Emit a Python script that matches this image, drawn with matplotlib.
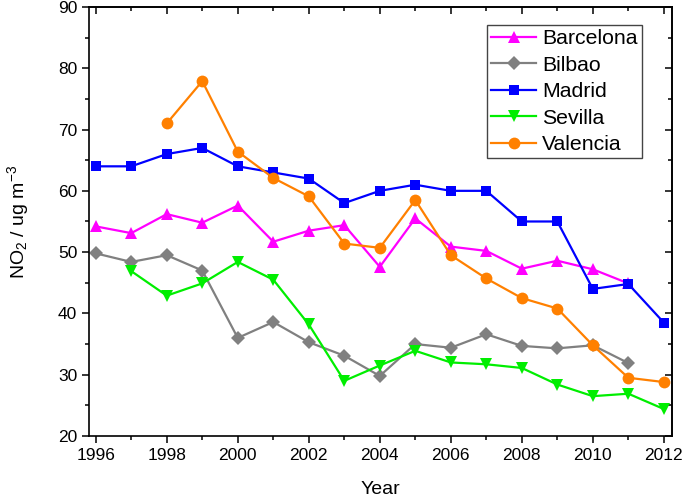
import matplotlib
matplotlib.use("Agg")
import matplotlib.pyplot as plt
from matplotlib.ticker import MultipleLocator, NullFormatter

plt.rcParams['font.family'] = ['Liberation Sans', 'DejaVu Sans']
plt.rcParams['mathtext.default'] = 'regular'

years = list(range(1996, 2013))

barcelona = [54.2, 53.1, 56.2, 54.8, 57.6, 51.7, 53.5, 54.4, 47.6, 55.5, 50.9, 50.2, 47.3, 48.6, 47.2, 44.9, None]
bilbao = [49.8, 48.4, 49.5, 47.0, 36.0, 38.6, 35.3, 33.1, 29.8, 35.0, 34.4, 36.6, 34.7, 34.3, 34.8, 31.9, None]
madrid = [64, 64, 66, 67, 64, 63, 62, 58, 60, 61, 60, 60, 55, 55, 44, 44.8, 38.5]
sevilla = [None, 46.9, 42.9, 44.9, 48.4, 45.5, 38.2, 29.0, 31.5, 33.9, 32.0, 31.7, 31.1, 28.4, 26.5, 26.9, 24.4]
valencia = [None, None, 71.0, 77.9, 66.4, 62.1, 59.1, 51.4, 50.7, 58.5, 49.5, 45.7, 42.5, 40.8, 34.8, 29.5, 28.8]

series = [
    ("Barcelona", barcelona, "#ff00ff", "^", 8.5),
    ("Bilbao", bilbao, "#808080", "D", 7),
    ("Madrid", madrid, "#0000ff", "s", 7.5),
    ("Sevilla", sevilla, "#00ee00", "v", 8.5),
    ("Valencia", valencia, "#ff8000", "o", 8.5),
]

fig = plt.figure(figsize=(6.83, 4.98), dpi=100)
ax = fig.add_axes([0.1303, 0.1245, 0.8536, 0.8615])

for name, vals, color, marker, ms in series:
    xs = [y for y, v in zip(years, vals) if v is not None]
    ys = [v for v in vals if v is not None]
    ax.plot(xs, ys, color=color, marker=marker, markersize=ms, linewidth=1.6,
            markeredgewidth=0, label=name)

ax.set_xlim(1995.81, 2012.23)
ax.set_ylim(20, 90)
ax.xaxis.set_major_locator(MultipleLocator(2))
ax.xaxis.set_minor_locator(MultipleLocator(1))
ax.yaxis.set_major_locator(MultipleLocator(10))
ax.yaxis.set_minor_locator(MultipleLocator(5))
ax.tick_params(axis='both', which='major', direction='out', length=5, width=1.1,
               labelsize=12.5, colors='black', top=False, right=False)
ax.tick_params(axis='both', which='minor', direction='out', length=3, width=1.1,
               top=False, right=False)
for s in ax.spines.values():
    s.set_linewidth(1.2)

sx = ax.secondary_xaxis('top')
sx.xaxis.set_major_locator(MultipleLocator(2))
sx.xaxis.set_minor_locator(MultipleLocator(1))
sx.tick_params(which='major', direction='in', length=5, width=1.1, labelsize=0)
sx.tick_params(which='minor', direction='in', length=3, width=1.1)
sx.xaxis.set_major_formatter(NullFormatter())
sx.spines['top'].set_linewidth(1.2)

sy = ax.secondary_yaxis('right')
sy.yaxis.set_major_locator(MultipleLocator(10))
sy.yaxis.set_minor_locator(MultipleLocator(5))
sy.tick_params(which='major', direction='in', length=5, width=1.1, labelsize=0)
sy.tick_params(which='minor', direction='in', length=3, width=1.1)
sy.yaxis.set_major_formatter(NullFormatter())
sy.spines['right'].set_linewidth(1.2)

ax.set_xlabel("Year", fontsize=14, labelpad=13)
ax.set_ylabel("NO$_2$ / ug m$^{-3}$", fontsize=14, labelpad=19)

leg = ax.legend(loc='upper right', bbox_to_anchor=(0.9485, 0.958), fontsize=15.3,
                frameon=True, fancybox=False, framealpha=1, edgecolor='#444444',
                borderaxespad=0, handlelength=2.1, handletextpad=0.3,
                labelspacing=0.35, borderpad=0.2)
leg.get_frame().set_linewidth(1.0)

fig.savefig("out.png", dpi=100)
